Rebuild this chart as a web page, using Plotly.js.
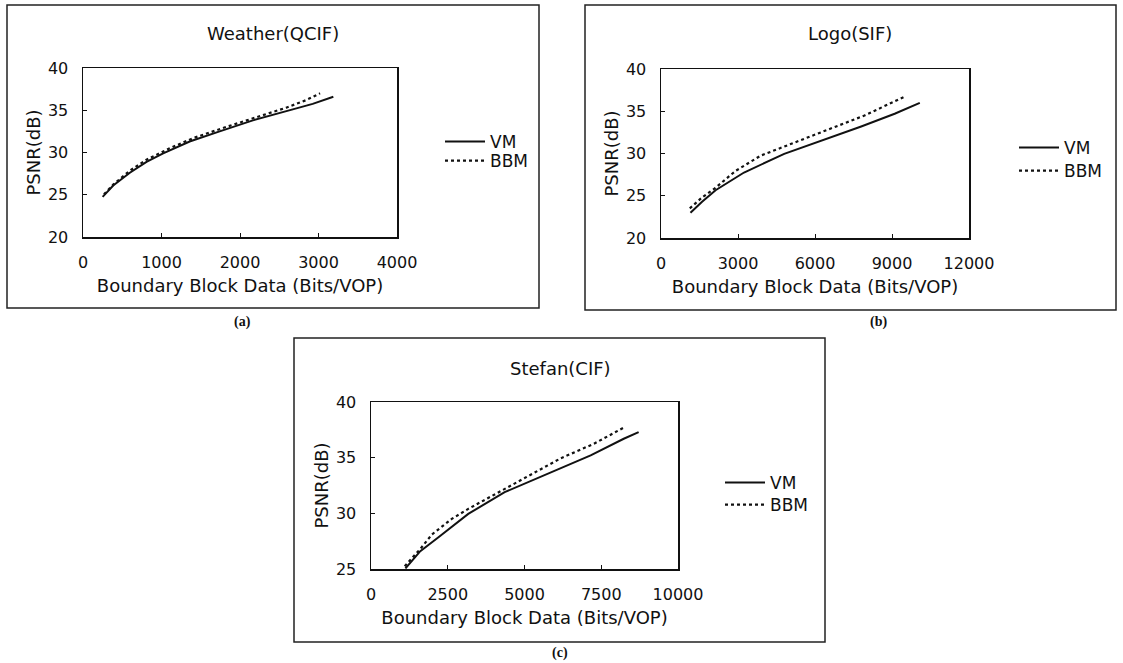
<!DOCTYPE html>
<html>
<head>
<meta charset="utf-8">
<script src="https://cdn.plot.ly/plotly-3.0.1.min.js"></script>
<style>
html,body{margin:0;padding:0;background:#fff;}
#chart{width:1123px;height:663px;}
</style>
</head>
<body>
<div id="chart"></div>
<script>
// ---------------- data ----------------
const seriesNames = ["VM", "BBM"];

// (a) Weather(QCIF)
const weatherVM_x  = [250, 385, 597, 809, 1021, 1359, 1741, 2164, 2672, 2926, 3189];
const weatherVM_y  = [24.75, 26.1, 27.6, 28.9, 29.9, 31.3, 32.5, 33.8, 35.1, 35.75, 36.6];
const weatherBBM_x = [267, 385, 597, 809, 1105, 1402, 1783, 2206, 2588, 2842, 3020];
const weatherBBM_y = [25.05, 26.2, 27.85, 29.15, 30.5, 31.7, 32.9, 34.2, 35.3, 36.2, 37.0];

// (b) Logo(SIF)
const logoVM_x  = [1148, 1600, 2126, 3235, 4800, 6235, 7800, 9104, 10083];
const logoVM_y  = [23.0, 24.3, 25.65, 27.75, 29.95, 31.5, 33.2, 34.7, 36.0];
const logoBBM_x = [1122, 1600, 2126, 2909, 3887, 5191, 6626, 7930, 9470];
const logoBBM_y = [23.5, 24.8, 25.95, 27.95, 29.75, 31.3, 32.95, 34.5, 36.7];

// (c) Stefan(CIF)
const stefanVM_x  = [1121, 1606, 2198, 3168, 4354, 5754, 7155, 8233, 8718];
const stefanVM_y  = [25.05, 26.6, 27.85, 29.95, 31.9, 33.55, 35.2, 36.7, 37.3];
const stefanBBM_x = [1099, 1606, 1983, 2630, 3168, 4569, 6185, 7263, 8233];
const stefanBBM_y = [25.25, 26.8, 28.1, 29.5, 30.4, 32.5, 34.95, 36.25, 37.7];

const panelTitles = ["Weather(QCIF)", "Logo(SIF)", "Stefan(CIF)"];
const panelLabels = ["(a)", "(b)", "(c)"];
const xAxisTitle = "Boundary Block Data (Bits/VOP)";
const yAxisTitle = "PSNR(dB)";

// ---------------- layout helpers ----------------
const W = 1123, H = 663;
const px = v => v / W;
const py = v => 1 - v / H;
const FONT = "DejaVu Sans, Arial, sans-serif";
const INK = "#111";

function lineTrace(x, y, name, dash, xa, ya, lg) {
  return {
    x: x, y: y, name: name, type: "scatter", mode: "lines",
    line: {color: INK, width: dash === "solid" ? 2 : 2.2, dash: dash},
    xaxis: xa, yaxis: ya, legend: lg, hoverinfo: "skip"
  };
}

const traces = [
  lineTrace(weatherVM_x, weatherVM_y, seriesNames[0], "solid", "x", "y", "legend"),
  lineTrace(weatherBBM_x, weatherBBM_y, seriesNames[1], "dot", "x", "y", "legend2"),
  lineTrace(logoVM_x, logoVM_y, seriesNames[0], "solid", "x2", "y2", "legend3"),
  lineTrace(logoBBM_x, logoBBM_y, seriesNames[1], "dot", "x2", "y2", "legend4"),
  lineTrace(stefanVM_x, stefanVM_y, seriesNames[0], "solid", "x3", "y3", "legend5"),
  lineTrace(stefanBBM_x, stefanBBM_y, seriesNames[1], "dot", "x3", "y3", "legend6")
];

function xAxis(domainPx, range, dtick, anchor) {
  return {
    domain: [px(domainPx[0]), px(domainPx[1])], range: range, dtick: dtick, tick0: 0,
    anchor: anchor, showgrid: false, zeroline: false,
    showline: true, mirror: true, linecolor: INK, linewidth: 1.5,
    ticks: "inside", ticklen: 4, tickcolor: INK, tickformat: "d",
    ticklabelstandoff: 10,
    tickfont: {family: FONT, size: 16, color: INK},
    title: {text: xAxisTitle, font: {family: FONT, size: 18, color: INK}, standoff: 8}
  };
}
function yAxis(domainPx, range, dtick, anchor) {
  return {
    domain: [py(domainPx[1]), py(domainPx[0])], range: range, dtick: dtick, tick0: 0,
    anchor: anchor, showgrid: false, zeroline: false,
    showline: true, mirror: true, linecolor: INK, linewidth: 1.5,
    ticks: "inside", ticklen: 4, tickcolor: INK,
    ticklabelstandoff: 10,
    tickfont: {family: FONT, size: 16, color: INK},
    title: {text: yAxisTitle, font: {family: FONT, size: 18, color: INK}, standoff: 2}
  };
}

function legendAt(xPx, midPx) {
  return {
    x: px(xPx), y: py(midPx), xanchor: "left", yanchor: "middle",
    font: {family: FONT, size: 17, color: INK}, itemwidth: 40,
    bgcolor: "rgba(0,0,0,0)", borderwidth: 0, tracegroupgap: 0, itemclick: false
  };
}

function frame(x0, y0, x1, y1) {
  return {type: "rect", xref: "paper", yref: "paper",
    x0: px(x0), x1: px(x1), y0: py(y1), y1: py(y0),
    line: {color: "#222", width: 1.5}, fillcolor: "rgba(0,0,0,0)", layer: "below"};
}

function textAt(text, xPx, yPx, font) {
  return {text: text, xref: "paper", yref: "paper", x: px(xPx), y: py(yPx),
    xanchor: "center", yanchor: "middle", showarrow: false, font: font};
}

const titleFont = {family: FONT, size: 18, color: INK};
const labelFont = {family: "Liberation Serif, DejaVu Serif, serif", size: 14, color: INK};

const layout = {
  width: W, height: H,
  margin: {l: 0, r: 0, t: 0, b: 0},
  paper_bgcolor: "#fff", plot_bgcolor: "#fff",
  showlegend: true,
  xaxis:  xAxis([83, 397], [0, 4000], 1000, "y"),
  yaxis:  yAxis([68, 237], [20, 40], 5, "x"),
  xaxis2: xAxis([661, 969], [0, 12000], 3000, "y2"),
  yaxis2: yAxis([69, 238], [20, 40], 5, "x2"),
  xaxis3: xAxis([371, 678], [0, 10000], 2500, "y3"),
  yaxis3: yAxis([402, 569], [25, 40], 5, "x3"),
  legend:  legendAt(440, 142),
  legend2: legendAt(440, 161),
  legend3: legendAt(1014, 148),
  legend4: legendAt(1014, 171),
  legend5: legendAt(720, 483),
  legend6: legendAt(720, 505),
  shapes: [
    frame(7, 5, 539, 308),
    frame(585, 5, 1116, 310),
    frame(294, 338, 825, 642)
  ],
  annotations: [
    textAt(panelTitles[0], 273, 33, titleFont),
    textAt(panelTitles[1], 850, 33, titleFont),
    textAt(panelTitles[2], 560, 368, titleFont),
    textAt("<b>" + panelLabels[0] + "</b>", 242, 322, labelFont),
    textAt("<b>" + panelLabels[1] + "</b>", 878, 322, labelFont),
    textAt("<b>" + panelLabels[2] + "</b>", 560, 653, labelFont)
  ]
};

Plotly.newPlot("chart", traces, layout, {staticPlot: true, displayModeBar: false});
</script>
</body>
</html>
